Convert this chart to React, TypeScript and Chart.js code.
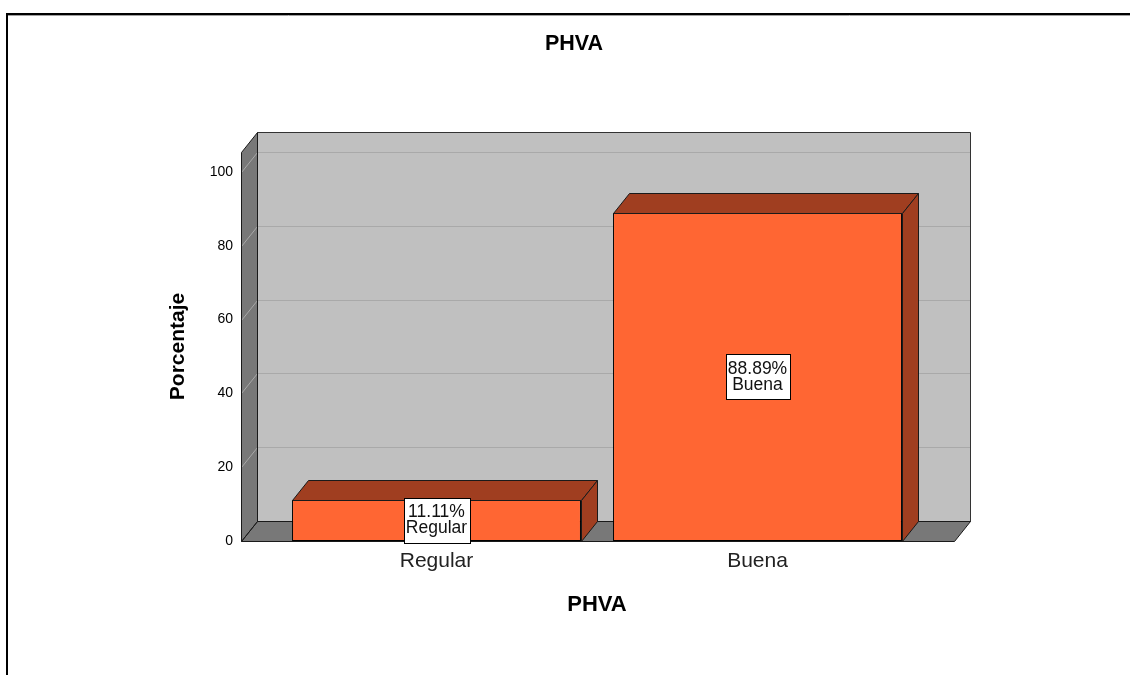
import { useEffect, useRef } from 'react';
import { Chart, registerables } from 'chart.js';

Chart.register(...registerables);

// Data
const categories = ['Regular', 'Buena'];
const percentages = [11.11, 88.89];
const yTickValues = [0, 20, 40, 60, 80, 100];
const chartTitle = 'PHVA';
const xAxisTitle = 'PHVA';
const yAxisTitle = 'Porcentaje';

// Canvas and 3D box geometry
const W = 1130;
const H = 675;
const DEPTH_X = 16;
const DEPTH_Y = 20;
const WALL_PAD_LEFT = 35;
const WALL_PAD_RIGHT = 36;
const Y_MAX = 105.4;

const FONT = 'Arial, "Liberation Sans", Helvetica, sans-serif';
const FRONT_FILL = '#FF6633';
const SHADE_FILL = '#A03E20';
const BACK_WALL = '#C0C0C0';
const SIDE_WALL = '#787878';
const GRID_BACK = '#A9A9A9';
const GRID_SIDE = '#A8A8A8';
const EDGE = '#1a1a1a';

type Pt = [number, number];

function polygon(ctx: CanvasRenderingContext2D, pts: Pt[], fill: string | null, stroke: string | null) {
  ctx.beginPath();
  ctx.moveTo(pts[0][0], pts[0][1]);
  for (let i = 1; i < pts.length; i++) ctx.lineTo(pts[i][0], pts[i][1]);
  ctx.closePath();
  if (fill) {
    ctx.fillStyle = fill;
    ctx.fill();
  }
  if (stroke) {
    ctx.strokeStyle = stroke;
    ctx.lineWidth = 1;
    ctx.stroke();
  }
}

const snap = (v: number) => Math.round(v) + 0.5;

// Draws the back wall, left wall, floor and their grid lines behind the bars
const box3dPlugin = {
  id: 'box3d',
  beforeDatasetsDraw(chart: any) {
    const { ctx, chartArea: a, scales } = chart;
    const yScale = scales.y;
    const fl = snap(a.left - WALL_PAD_LEFT);
    const fr = snap(a.right + WALL_PAD_RIGHT);
    const ft = snap(yScale.getPixelForValue(Y_MAX));
    const fb = snap(yScale.getPixelForValue(0));
    ctx.save();

    // back wall
    polygon(ctx, [[fl + DEPTH_X, ft - DEPTH_Y], [fr + DEPTH_X, ft - DEPTH_Y], [fr + DEPTH_X, fb - DEPTH_Y], [fl + DEPTH_X, fb - DEPTH_Y]], BACK_WALL, null);
    // left wall
    polygon(ctx, [[fl, ft], [fl + DEPTH_X, ft - DEPTH_Y], [fl + DEPTH_X, fb - DEPTH_Y], [fl, fb]], SIDE_WALL, null);
    // floor
    polygon(ctx, [[fl, fb], [fl + DEPTH_X, fb - DEPTH_Y], [fr + DEPTH_X, fb - DEPTH_Y], [fr, fb]], SIDE_WALL, null);

    // grid lines
    ctx.lineWidth = 1;
    for (const v of yTickValues) {
      if (v === 0) continue;
      const py = snap(yScale.getPixelForValue(v));
      ctx.strokeStyle = GRID_SIDE;
      ctx.beginPath();
      ctx.moveTo(fl, py);
      ctx.lineTo(fl + DEPTH_X, py - DEPTH_Y);
      ctx.stroke();
      ctx.strokeStyle = GRID_BACK;
      ctx.beginPath();
      ctx.moveTo(fl + DEPTH_X, py - DEPTH_Y);
      ctx.lineTo(fr + DEPTH_X, py - DEPTH_Y);
      ctx.stroke();
    }

    // outlines
    polygon(ctx, [[fl + DEPTH_X, ft - DEPTH_Y], [fr + DEPTH_X, ft - DEPTH_Y], [fr + DEPTH_X, fb - DEPTH_Y], [fl + DEPTH_X, fb - DEPTH_Y]], null, '#333333');
    polygon(ctx, [[fl, ft], [fl + DEPTH_X, ft - DEPTH_Y], [fl + DEPTH_X, fb - DEPTH_Y], [fl, fb]], null, EDGE);
    polygon(ctx, [[fl, fb], [fl + DEPTH_X, fb - DEPTH_Y], [fr + DEPTH_X, fb - DEPTH_Y], [fr, fb]], null, EDGE);
    ctx.restore();
  },
  afterDatasetsDraw(chart: any) {
    const { ctx } = chart;
    const meta = chart.getDatasetMeta(0);
    ctx.save();
    meta.data.forEach((bar: any, i: number) => {
      const { x, y, base, width } = bar.getProps(['x', 'y', 'base', 'width'], true);
      const l = snap(x - width / 2);
      const r = snap(x + width / 2);
      const t = snap(y);
      const b = snap(base);
      // top face
      polygon(ctx, [[l, t], [l + DEPTH_X, t - DEPTH_Y], [r + DEPTH_X, t - DEPTH_Y], [r, t]], SHADE_FILL, EDGE);
      // right side face
      polygon(ctx, [[r, t], [r + DEPTH_X, t - DEPTH_Y], [r + DEPTH_X, b - DEPTH_Y], [r, b]], SHADE_FILL, EDGE);

      // value label box
      const lines = [`${percentages[i].toFixed(2)}%`, categories[i]];
      ctx.font = `17.5px ${FONT}`;
      const tw = Math.max(...lines.map((s) => ctx.measureText(s).width));
      const bw = Math.round(tw + 5);
      const bh = 45;
      const cy = (y + base) / 2;
      const bx = Math.round(x - bw / 2) + 0.5;
      const by = Math.round(cy - bh / 2) + 0.5;
      ctx.fillStyle = '#FFFFFF';
      ctx.fillRect(bx, by, bw, bh);
      ctx.strokeStyle = '#000000';
      ctx.lineWidth = 1;
      ctx.strokeRect(bx, by, bw, bh);
      ctx.fillStyle = '#111111';
      ctx.textAlign = 'center';
      ctx.textBaseline = 'middle';
      ctx.fillText(lines[0], x, cy - 8);
      ctx.fillText(lines[1], x, cy + 8);
    });
    ctx.restore();
  },
  afterDraw(chart: any) {
    const { ctx } = chart;
    ctx.save();
    // outer frame
    ctx.strokeStyle = '#000000';
    ctx.lineWidth = 2;
    ctx.strokeRect(7, 14, W + 20, H + 20);
    ctx.strokeStyle = '#A0A0A0';
    ctx.lineWidth = 1;
    ctx.beginPath();
    ctx.moveTo(8, 15.5);
    ctx.lineTo(W, 15.5);
    ctx.stroke();
    // chart title
    ctx.fillStyle = '#000000';
    ctx.font = `bold 21.5px ${FONT}`;
    ctx.textAlign = 'center';
    ctx.textBaseline = 'middle';
    ctx.fillText(chartTitle, 574, 44);
    ctx.restore();
  },
};

export default function App() {
  const canvasRef = useRef<HTMLCanvasElement | null>(null);

  useEffect(() => {
    const canvas = canvasRef.current;
    if (!canvas) return;
    const chart = new Chart(canvas, {
      type: 'bar',
      data: {
        labels: categories,
        datasets: [
          {
            data: percentages,
            backgroundColor: FRONT_FILL,
            borderColor: '#000000',
            borderWidth: 1,
            borderSkipped: false,
            barPercentage: 0.9,
            categoryPercentage: 1.0,
          },
        ],
      },
      options: {
        responsive: false,
        animation: false,
        devicePixelRatio: 1,
        layout: { padding: { left: 0, top: 152, right: 212, bottom: 0 } },
        plugins: {
          legend: { display: false },
          tooltip: { enabled: false },
          title: { display: false },
        },
        scales: {
          x: {
            grid: { display: false, drawTicks: false },
            border: { display: false },
            ticks: {
              padding: 8,
              maxRotation: 0,
              color: '#222222',
              font: { family: FONT, size: 21 },
            },
            title: {
              display: true,
              text: xAxisTitle,
              color: '#000000',
              font: { family: FONT, size: 22, weight: 'bold' },
              padding: { top: 0, bottom: 57 },
            },
            afterFit: (s: any) => {
              s.height = 134;
            },
          },
          y: {
            min: 0,
            max: Y_MAX,
            grid: { display: false, drawTicks: false },
            border: { display: false },
            ticks: {
              stepSize: 20,
              includeBounds: false,
              padding: 43,
              color: '#000000',
              font: { family: FONT, size: 14 },
            },
            title: {
              display: true,
              text: yAxisTitle,
              color: '#000000',
              font: { family: FONT, size: 21, weight: 'bold' },
              padding: { top: 166, bottom: 0 },
            },
            afterFit: (s: any) => {
              s.width = 276;
            },
          },
        },
      },
      plugins: [box3dPlugin],
    });
    return () => chart.destroy();
  }, []);

  return (
    <div style={{ position: 'fixed', left: 0, top: 0, width: W, height: H, background: '#FFFFFF' }}>
      <canvas ref={canvasRef} width={W} height={H} style={{ display: 'block' }} />
    </div>
  );
}
